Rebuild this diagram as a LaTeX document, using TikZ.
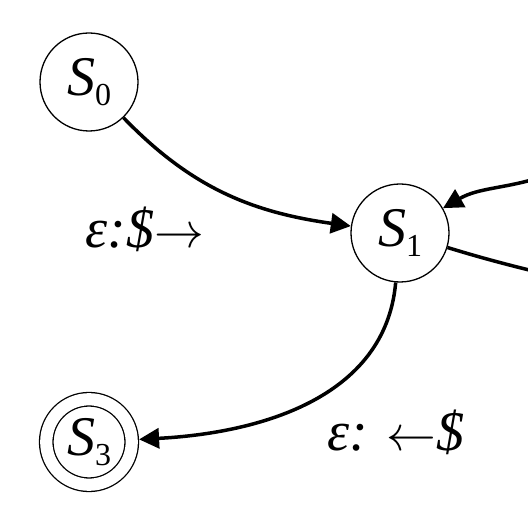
\documentclass[tikz,border=0pt]{standalone}
\usepackage{fontspec}
\setmainfont{Liberation Serif}
\usetikzlibrary{arrows.meta}

\newcommand{\stname}[1]{\textit{S}\raisebox{-4.8pt}{\fontsize{16}{16}\selectfont #1}}

\begin{document}
\begin{tikzpicture}[x=0.5pt, y=0.5pt, font=\fontsize{28}{34}\selectfont,
    state/.style={shape=circle, draw=black, line width=0.65pt, minimum size=49pt, inner sep=0pt},
    accept/.style={shape=circle, draw=black, line width=0.65pt, double=white, double distance=6.1pt, minimum size=42.75pt, inner sep=0pt, outer sep=3.7pt},
    trans/.style={line width=1.75pt, -{Triangle[length=10pt, width=10pt]}}]
    \path[use as bounding box] (0,0) rectangle (528,518);
    \clip (0,0) rectangle (528,518);
    \node[state] at (89,436) (S0) {\stname{0}};
    \node[state] at (400,285) (S1) {\stname{1}};
    \node[accept] at (89,76) (S3) {\stname{3}};
    \coordinate (inR) at (545,342);
    \coordinate (outR) at (545,244);
    \path [trans] (S0) edge[out=-46, in=172] (S1);
    \path [trans] (S1) edge[out=-95, in=3] (S3);
    \path [trans] (inR) edge[out=198, in=30] (S1);
    \path [line width=1.75pt] (S1) edge[out=-17, in=166] (outR);
    \node at (145,289) (L01) {\textit{ε:\$}$\rightarrow$};
    \node at (396,86) (L13) {\textit{ε:} $\leftarrow$\textit{\$}};
\end{tikzpicture}
\end{document}
